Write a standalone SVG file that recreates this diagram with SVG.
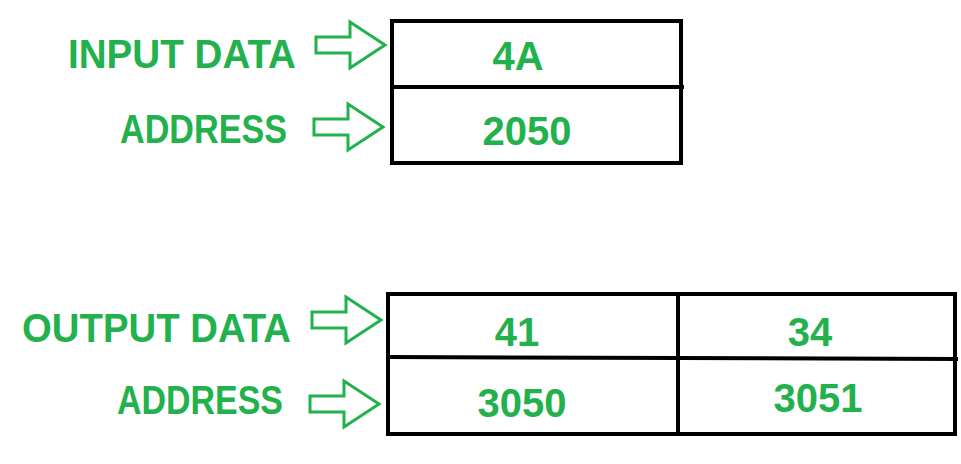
<svg xmlns="http://www.w3.org/2000/svg" width="961" height="464" viewBox="0 0 961 464">
<defs>
<style>
.t{font-family:"Liberation Sans",Arial,sans-serif;font-weight:bold;fill:#22b14c;font-size:40px}
.v{text-anchor:middle}
.b{fill:none;stroke:#000;stroke-width:4}
.a{fill:none;stroke:#22b14c;stroke-width:3;stroke-linejoin:miter}
</style>
<path id="arr" d="M0,-8 H34 V-23 L69,0 L34,23 V8 H0 Z"/>
</defs>
<rect width="961" height="464" fill="#fff"/>
<g id="input-box">
<rect class="b" x="392" y="21" width="289" height="142"/>
<line class="b" x1="392" y1="87" x2="684" y2="87"/>
<text class="t v" x="518" y="70">4A</text>
<text class="t v" x="527" y="145">2050</text>
</g>
<g id="output-box">
<rect class="b" x="388" y="294" width="567" height="140"/>
<line class="b" x1="678" y1="292" x2="678" y2="434"/>
<line class="b" x1="388" y1="357" x2="958" y2="359"/>
<text class="t v" x="517" y="346">41</text>
<text class="t v" x="810" y="346">34</text>
<text class="t v" x="522" y="417">3050</text>
<text class="t v" x="818" y="412">3051</text>
</g>
<g id="labels">
<text class="t" x="68" y="68" textLength="228" lengthAdjust="spacingAndGlyphs">INPUT DATA</text>
<text class="t" x="120" y="143" textLength="167" lengthAdjust="spacingAndGlyphs">ADDRESS</text>
<text class="t" x="22" y="342" textLength="269" lengthAdjust="spacingAndGlyphs">OUTPUT DATA</text>
<text class="t" x="117" y="414" textLength="166" lengthAdjust="spacingAndGlyphs">ADDRESS</text>
</g>
<g id="connectors">
<use href="#arr" class="a" transform="translate(316,45)"/>
<use href="#arr" class="a" transform="translate(314,127)"/>
<use href="#arr" class="a" transform="translate(312,320)"/>
<use href="#arr" class="a" transform="translate(310,404)"/>
</g>
</svg>
